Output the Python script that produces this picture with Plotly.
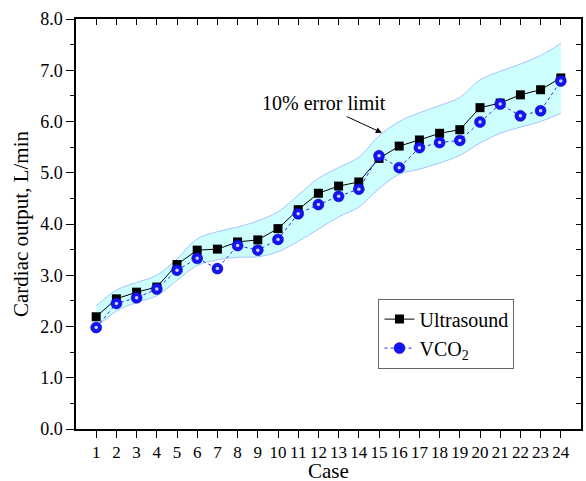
import plotly.graph_objects as go

cases = list(range(1, 25))
ultrasound = [2.19, 2.54, 2.67, 2.77, 3.21, 3.49, 3.51, 3.65, 3.69, 3.91, 4.28, 4.60,
              4.74, 4.82, 5.28, 5.52, 5.64, 5.77, 5.84, 6.27, 6.36, 6.52, 6.62, 6.85]
vco2 = [1.98, 2.45, 2.56, 2.73, 3.10, 3.33, 3.13, 3.58, 3.49, 3.70, 4.20, 4.38,
        4.54, 4.68, 5.33, 5.10, 5.49, 5.59, 5.63, 5.99, 6.34, 6.11, 6.21, 6.79]
band_upper = [2.40, 2.71, 2.86, 3.00, 3.32, 3.71, 3.85, 3.94, 4.06, 4.24, 4.56, 4.89,
              5.10, 5.30, 5.72, 6.00, 6.17, 6.31, 6.47, 6.81, 6.98, 7.12, 7.29, 7.52]
band_lower = [1.98, 2.30, 2.47, 2.60, 2.90, 3.19, 3.30, 3.35, 3.36, 3.46, 3.66, 3.90,
              4.14, 4.33, 4.69, 4.97, 5.07, 5.19, 5.34, 5.58, 5.77, 5.89, 6.00, 6.16]
y_ticks = [0, 1, 2, 3, 4, 5, 6, 7, 8]

FONT = "Liberation Serif"
edge = "rgb(165,195,255)"
fill = "rgb(206,255,255)"

fig = go.Figure()
fig.add_trace(go.Scatter(x=cases, y=band_upper, mode="lines",
                         line=dict(color=edge, width=1, shape="spline", smoothing=1.0),
                         showlegend=False, hoverinfo="skip"))
fig.add_trace(go.Scatter(x=cases, y=band_lower, mode="lines", fill="tonexty", fillcolor=fill,
                         line=dict(color=edge, width=1, shape="spline", smoothing=1.0),
                         showlegend=False, hoverinfo="skip"))
fig.add_trace(go.Scatter(x=cases, y=ultrasound, mode="lines+markers", name="Ultrasound",
                         line=dict(color="black", width=1),
                         marker=dict(symbol="square", size=9, color="black")))
fig.add_trace(go.Scatter(x=cases, y=vco2, mode="lines+markers", name="VCO<sub>2</sub>",
                         line=dict(color="rgb(40,40,255)", width=1, dash="dot"),
                         marker=dict(symbol="circle", size=11, color="rgb(20,20,240)",
                                     line=dict(color="rgb(0,0,170)", width=0.5))))
# sphere highlight on the overlaying axes
fig.add_trace(go.Scatter(x=cases, y=vco2, mode="markers", xaxis="x2", yaxis="y2",
                         marker=dict(symbol="circle", size=3.5, color="rgb(205,205,255)"),
                         showlegend=False, hoverinfo="skip"))

fig.add_annotation(x=12.26, y=6.37, xref="x", yref="y", text="10% error limit",
                   showarrow=False, font=dict(family=FONT, size=20, color="black"))
fig.add_annotation(x=15.14, y=5.78, ax=13.22, ay=6.13, xref="x", yref="y",
                   axref="x", ayref="y", text=" ", showarrow=True,
                   arrowhead=2, arrowsize=1.2, arrowwidth=1, arrowcolor="black")
fig.add_annotation(x=0.5, y=-0.103, xref="paper", yref="paper", text="Case",
                   showarrow=False, xanchor="center", yanchor="middle",
                   font=dict(family=FONT, size=21, color="black"))

axis_common = dict(showline=True, linecolor="black", linewidth=1.5, showgrid=False,
                   zeroline=False)
fig.update_layout(
    width=586, height=481,
    margin=dict(l=76, r=5, t=19, b=52),
    paper_bgcolor="white", plot_bgcolor="white",
    font=dict(family=FONT, size=17, color="black"),
    xaxis=dict(range=[0, 25], tickvals=cases, ticks="outside", ticklen=7, tickwidth=1,
               tickcolor="black", tickfont=dict(size=17), **axis_common),
    xaxis2=dict(range=[0, 25], overlaying="x", side="top", tickvals=cases, ticks="inside",
                ticklen=6, tickwidth=1, tickcolor="black", showticklabels=False,
                **axis_common),
    yaxis=dict(range=[0, 8], tickvals=y_ticks, tickformat=".1f", ticks="outside", ticklen=8,
               tickwidth=1, tickcolor="black", tickfont=dict(size=18),
               minor=dict(dtick=0.5, ticks="outside", ticklen=4, tickcolor="black", tickwidth=1),
               title=dict(text="Cardiac output, L/min", font=dict(size=21), standoff=6),
               **axis_common),
    yaxis2=dict(range=[0, 8], overlaying="y", side="right", dtick=0.5, ticks="inside",
                ticklen=5, tickwidth=1, tickcolor="black", showticklabels=False,
                **axis_common),
    legend=dict(x=0.599, y=0.318, xanchor="left", yanchor="top", traceorder="normal",
                bgcolor="white", bordercolor="#666", borderwidth=1,
                font=dict(family=FONT, size=20), tracegroupgap=0),
)

fig.write_html("out.html", config={"displayModeBar": False},
               post_script="document.body.style.margin='0';document.body.style.overflow='hidden';")
